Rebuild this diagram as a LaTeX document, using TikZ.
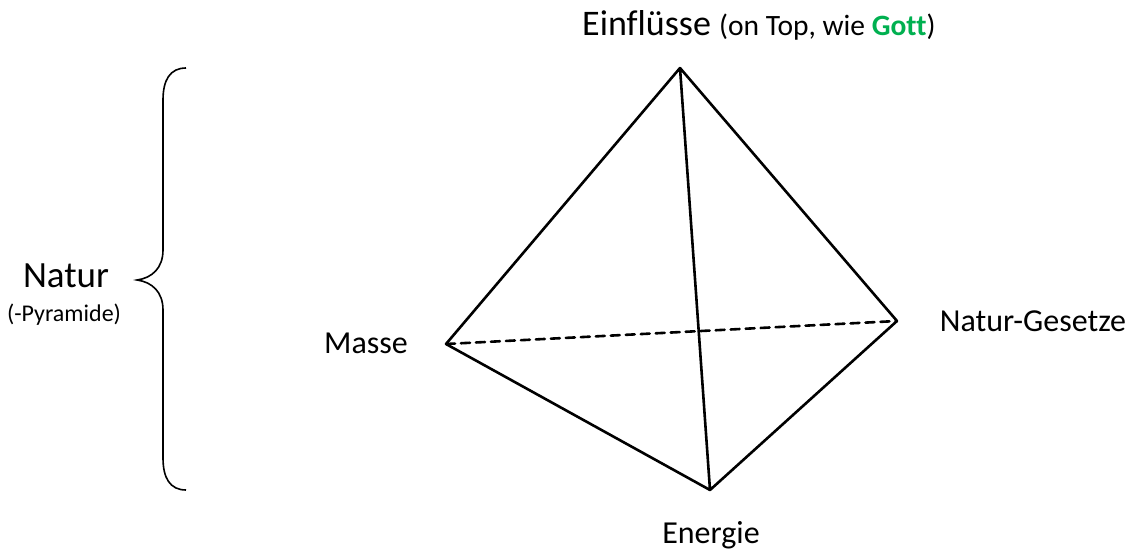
\documentclass[tikz,border=0pt]{standalone}
\usepackage{fontspec}
\setmainfont{Carlito}[Ligatures=NoCommon]
\usepackage{tikz}
\definecolor{godgreen}{RGB}{0,176,80}

\begin{document}
\begin{tikzpicture}[x=1pt,y=-1pt,
            edge/.style={line width=2.6pt,line cap=round,line join=round},
            hidden/.style={edge,dash pattern=on 9pt off 6pt},
            lbl/.style={inner sep=0pt,font=\fontsize{32}{36}\selectfont}]
            \useasboundingbox (0,0) rectangle (1130,551);

            % the four corners of the pyramid
            \coordinate (top)   at (680,68);
            \coordinate (mass)  at (446,344);
            \coordinate (law)   at (897,321);
            \coordinate (energy) at (710,490);

            % hidden edge at the back, then the visible ones
            \draw[hidden] (mass)--(law);
            \draw[edge] (top)--(mass) (top)--(law) (top)--(energy)
            (mass)--(energy) (law)--(energy);

            % corner labels
            \node[lbl,anchor=base west] (tlbl) at (582,36)
            {\fontsize{36}{40}\selectfont Einflüsse {\fontsize{29.5}{32}\selectfont (on Top, wie \textbf{\textcolor{godgreen}{Gott}})}};
            \node[lbl] (mlbl) at (366,343) {Masse};
            \node[lbl] (llbl) at (1033,321) {Natur-Gesetze};
            \node[lbl] (elbl) at (711,535) {Energie};

            % the brace round the whole pyramid
            \draw[line width=1.6pt]
            (186,68) .. controls (170,68) and (163,80) .. (163,100)
            -- (163,250) .. controls (163,268) and (152,278) .. (137,280)
            .. controls (152,282) and (163,292) .. (163,310)
            -- (163,458) .. controls (163,478) and (170,490) .. (186,490);
            \node[lbl,font=\fontsize{37}{40}\selectfont] (nat) at (66,276) {Natur};
            \node[lbl,font=\fontsize{24}{28}\selectfont] (pyr) at (64,315) {(-Pyramide)};
\end{tikzpicture}
\end{document}
